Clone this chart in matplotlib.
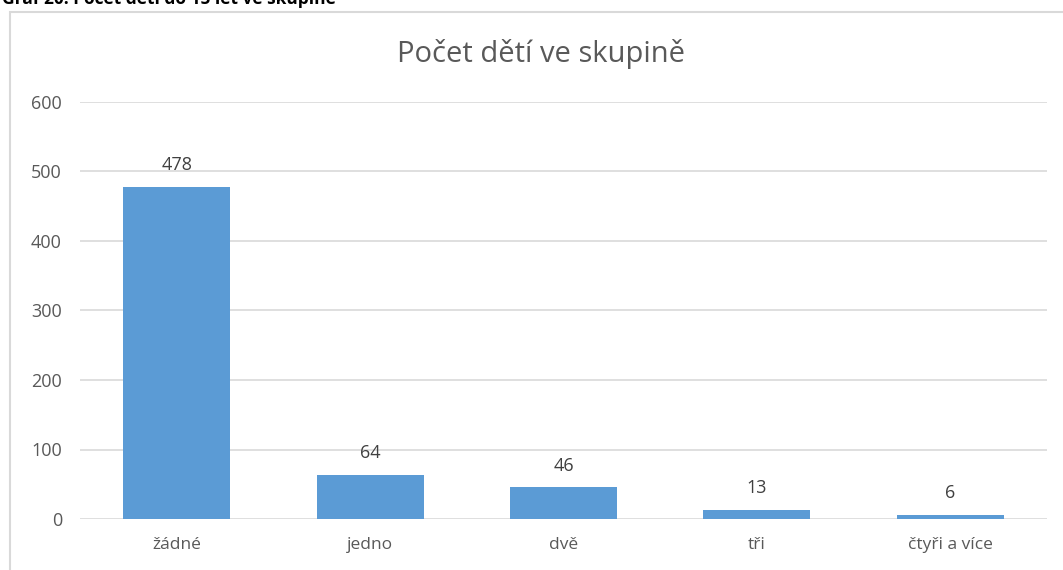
import matplotlib
matplotlib.use("Agg")
import matplotlib.pyplot as plt
from matplotlib.patches import Rectangle

categories = ["žádné", "jedno", "dvě", "tři", "čtyři a více"]
values = [478, 64, 46, 13, 6]
yticks = [0, 100, 200, 300, 400, 500, 600]
title = "Počet dětí ve skupině"
header = "Graf 20: Počet dětí do 15 let ve skupině"

W, H = 1063, 570
plt.rcParams['font.family'] = ['Open Sans', 'DejaVu Sans']
fig = plt.figure(figsize=(W/100, H/100), dpi=100)

# chart frame
fig.patches.append(Rectangle((10/W, -0.1), 1.2, 1 - 12/H + 0.1, transform=fig.transFigure,
                             fill=False, edgecolor='#d9d9d9', linewidth=1.5, zorder=0))
fig.text(2/W, 1 - 4/H, header, fontsize=12.5, fontweight='bold', color='black', va='baseline')

ax = fig.add_axes([80/W, (H-519)/H, 967/W, (519-102)/H])
x = list(range(len(categories)))
ax.bar(x, values, width=0.553, color='#5b9bd5', zorder=3)
ax.set_xlim(-0.5, len(categories) - 0.5)
ax.set_ylim(0, 600)
ax.set_yticks(yticks)
ax.set_yticklabels([str(v) for v in yticks])
ax.set_xticks(x)
ax.set_xticklabels(categories)
ax.tick_params(axis='both', length=0, colors='#595959')
ax.tick_params(axis='x', pad=13, labelsize=12.5)
ax.tick_params(axis='y', pad=13, labelsize=13)
ax.grid(axis='y', color='#d9d9d9', linewidth=1.2, zorder=0)
for s in ax.spines.values():
    s.set_visible(False)
for xi, v in zip(x, values):
    ax.annotate(str(v), (xi, v), xytext=(0, 9), textcoords='offset points',
                ha='center', va='bottom', fontsize=13, color='#404040')
fig.text(541/W, 1 - 54/H, title, fontsize=21, color='#595959', ha='center', va='center')

fig.savefig("out.png", dpi=100)
